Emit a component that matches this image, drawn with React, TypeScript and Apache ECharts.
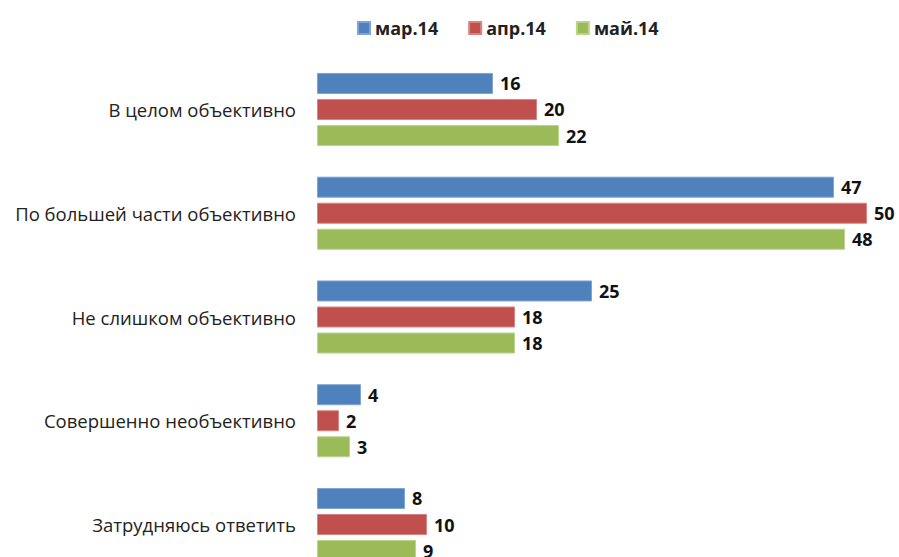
import React, { useEffect, useRef } from "react";
import * as echarts from "echarts";

const categories = [
  "В целом объективно",
  "По большей части объективно",
  "Не слишком объективно",
  "Совершенно необъективно",
  "Затрудняюсь ответить",
];
const seriesNames = ["мар.14", "апр.14", "май.14"];
const mar14 = [16, 47, 25, 4, 8];
const apr14 = [20, 50, 18, 2, 10];
const may14 = [22, 48, 18, 3, 9];
const colors = ["#4F81BD", "#C0504D", "#9BBB59"];
const borders = ["#7FA3D3", "#D98381", "#BBD48A"];

export default function App() {
  const ref = useRef<HTMLDivElement>(null);
  useEffect(() => {
    if (!ref.current) return;
    const chart = echarts.init(ref.current, null, { renderer: "svg" });
    const font = "'Open Sans', 'Noto Sans', sans-serif";
    const data = [mar14, apr14, may14];
    chart.setOption({
      animation: false,
      legend: {
        top: 14,
        left: 352,
        itemWidth: 12,
        itemHeight: 12,
        itemGap: 30,
        icon: "rect",
        textStyle: { fontFamily: font, fontSize: 18, fontWeight: "bold", color: "#222" },
        data: seriesNames,
      },
      grid: { left: 317, right: 32, top: 57.6, bottom: 23.6 },
      xAxis: {
        type: "value",
        min: 0,
        max: 50,
        show: false,
      },
      yAxis: {
        type: "category",
        inverse: true,
        data: categories,
        axisLine: { show: false },
        axisTick: { show: false },
        axisLabel: { margin: 21, fontFamily: font, fontSize: 18.5, color: "#222" },
      },
      series: seriesNames.map((name, i) => ({
        name,
        type: "bar",
        data: data[i],
        barWidth: 21,
        barGap: "24%",
        itemStyle: { color: colors[i], borderColor: borders[i], borderWidth: 1 },
        label: {
          show: true,
          position: "right",
          distance: 7,
          fontFamily: font,
          fontSize: 18,
          fontWeight: "bold",
          color: "#111",
        },
      })),
    });
    return () => chart.dispose();
  }, []);
  return (
    <div style={{ position: "fixed", left: 0, top: 0, width: 899, height: 557, overflow: "hidden", background: "#fff" }}>
      <div ref={ref} style={{ width: 899, height: 600 }} />
    </div>
  );
}
